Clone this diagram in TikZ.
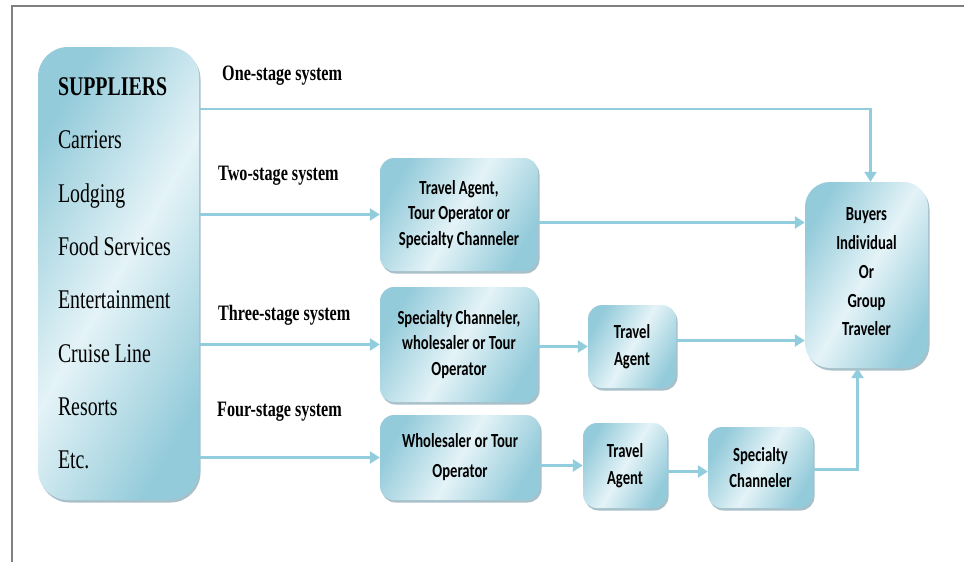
\documentclass[tikz,border=0pt]{standalone}
\usepackage{fontspec}
\setmainfont{Liberation Serif}[FakeStretch=0.735]
\newfontfamily\boxfont{Carlito}[FakeStretch=0.733]
\usetikzlibrary{arrows.meta,shadows}

\definecolor{linec}{RGB}{146,205,221}
\definecolor{bdark}{RGB}{148,203,218}
\definecolor{blight}{RGB}{228,243,247}
\definecolor{shadowc}{RGB}{110,150,165}
\definecolor{framec}{RGB}{128,128,128}

\newcommand\mysupfont{\fontsize{27}{53.3}\selectfont}
\newcommand\myboxfont{\boxfont\bfseries\fontsize{20}{25.5}\selectfont}
\newcommand\mylblfont{\bfseries\fontsize{22}{26}\selectfont}

\tikzset{
  conn/.style={draw=linec, line width=2.5pt, -{Triangle[length=10pt,width=12pt]}},
  grad/.style={left color=bdark, right color=bdark, middle color=blight, shading angle=60,
    draw=none, inner sep=0pt,
    drop shadow={shadow xshift=1.5pt, shadow yshift=-2.5pt, fill=shadowc, opacity=0.6}},
  boxnode/.style={grad, rounded corners=14pt, align=center, font=\myboxfont},
  stagelbl/.style={anchor=base west, inner sep=0pt, font=\mylblfont},
}

\begin{document}
\begin{tikzpicture}[x=1pt, y=-1pt]
\useasboundingbox (0,0) rectangle (964,562);
\fill[white] (0,0) rectangle (964,562);
% frame
\draw[framec, line width=2pt] (12,562) -- (12,6) -- (964,6);

% suppliers
\node[grad, rounded corners=30pt, minimum width=161pt, minimum height=453pt,
      text width=121pt, inner xsep=20pt, align=left, font=\mysupfont] (sup) at (118.5,273.5)
  {\spaceskip=4.8pt\xspaceskip=4.8pt\relax
   \textbf{SUPPLIERS}\\Carriers\\Lodging\\Food Services\\Entertainment\\Cruise Line\\Resorts\\Etc.};

% intermediate boxes
\node[boxnode, minimum width=158pt, minimum height=113pt] (b1) at (459,214.5)
  {Travel Agent,\\Tour Operator or\\Specialty Channeler};
\node[boxnode, minimum width=158pt, minimum height=115pt] (b2) at (459,344.5)
  {Specialty Channeler,\\wholesaler or Tour\\Operator};
\node[boxnode, minimum width=88pt, minimum height=83pt] (t1) at (632,346.5)
  {Travel\\[1.5pt]Agent};
\node[boxnode, minimum width=160pt, minimum height=85pt] (b3) at (460,457.5)
  {Wholesaler or Tour\\[4.5pt]Operator};
\node[boxnode, minimum width=84pt, minimum height=85pt] (t2) at (625,465.5)
  {Travel\\[2pt]Agent};
\node[boxnode, minimum width=105pt, minimum height=81pt] (sc) at (760.5,467.5)
  {Specialty\\Channeler};
\node[boxnode, rounded corners=25pt, minimum width=123pt, minimum height=186pt] (buy) at (866.5,275)
  {Buyers\\[3.3pt]Individual\\[3.3pt]Or\\[3.3pt]Group\\[3.3pt]Traveler\\[-19pt]};

% stage labels
\node[stagelbl] (l1) at (222,80) {One-stage system};
\node[stagelbl] (l2) at (218,180) {Two-stage system};
\node[stagelbl] (l3) at (218,320) {Three-stage system};
\node[stagelbl] (l4) at (217,416) {Four-stage system};

% helper coordinates
\coordinate (y1) at (0,109);
\coordinate (p1) at ([yshift=-8pt]b1.east);
\coordinate (p2) at ([yshift=6pt]t1.east);
\coordinate (p3) at ([yshift=-4pt]sc.west);
\coordinate (p4) at ([yshift=-2pt]sc.east);
\coordinate (p5) at ([xshift=-9pt]buy.south);
\coordinate (p6) at ([xshift=4pt]buy.north);

% connectors
\draw[conn] (sup.east |- y1) -| (p6);

\draw[conn] (sup.east |- b1.west) -- (b1.west);
\draw[conn] (p1) -- (buy.west |- p1);

\draw[conn] (sup.east |- b2.west) -- (b2.west);
\draw[conn] (b2.east |- t1.west) -- (t1.west);
\draw[conn] (p2) -- (buy.west |- p2);

\draw[conn] (sup.east |- b3.west) -- (b3.west);
\draw[conn] (b3.east |- t2.west) -- (t2.west);
\draw[conn] (t2.east |- p3) -- (p3);
\draw[conn] (p4) -| (p5);
\end{tikzpicture}
\end{document}
